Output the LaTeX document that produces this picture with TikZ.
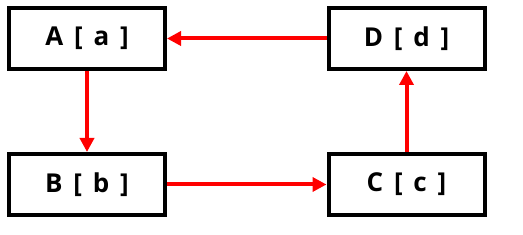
\documentclass[tikz,border=0pt]{standalone}
\usepackage{fontspec}
\setmainfont{Open Sans}[WordSpace=1.6]
\usetikzlibrary{arrows.meta,positioning}
\tikzset{
  >={Triangle[length=14pt,width=14pt]},
  statebox/.style={draw=black, line width=4pt, minimum width=156pt, minimum height=61pt,
    inner sep=0pt, font=\bfseries\fontsize{26}{30}\selectfont},
  flow/.style={->, draw=red, line width=4pt}
}
\begin{document}
\begin{tikzpicture}[x=1pt,y=1pt]
\useasboundingbox (0,0) rectangle (523,-235);

% 상자
\node[statebox] (A) at (87,-38.5) {A [ a ]};
\node[statebox, below=81pt of A] (B) {B [ b ]};
\node[statebox, right=159.5pt of A] (D) {D [ d ]};
\node[statebox, below=81pt of D] (C) {C [ c ]};

% 화살표
\draw[flow] (A) -- (B);
\draw[flow] (B) -- (C);
\draw[flow] (C) -- (D);
\draw[flow] (D) -- (A);

\end{tikzpicture}
\end{document}
